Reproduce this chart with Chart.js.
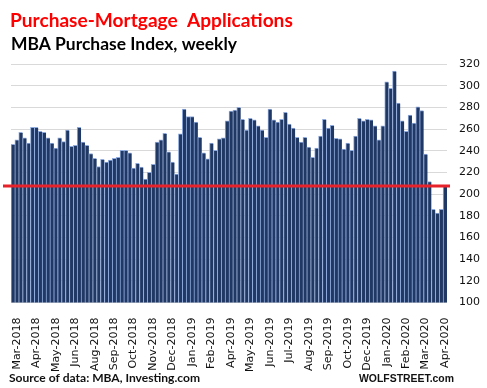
<!DOCTYPE html>
<html>
<head>
<meta charset="utf-8">
<title>Purchase-Mortgage Applications</title>
<script src="https://cdn.jsdelivr.net/npm/chart.js@4.4.1/dist/chart.umd.min.js"></script>
<style>
  html, body { margin: 0; padding: 0; background: #fff; }
  #chart { display: block; }
</style>
</head>
<body>
<canvas id="chart" width="487" height="388"></canvas>
<script>
var titleText = 'Purchase-Mortgage  Applications';
var subtitleText = 'MBA Purchase Index, weekly';
var sourceText = 'Source of data: MBA, Investing.com';
var brandText = 'WOLFSTREET.com';

// month labels shown under every 5th week, starting at week 1
var tickLabels = ['Mar-2018', 'Apr-2018', 'May-2018', 'Jun-2018', 'Aug-2018', 'Sep-2018', 'Oct-2018', 'Nov-2018', 'Dec-2018', 'Jan-2019', 'Feb-2019', 'Apr-2019', 'May-2019', 'Jun-2019', 'Jul-2019', 'Aug-2019', 'Sep-2019', 'Oct-2019', 'Dec-2019', 'Jan-2020', 'Feb-2020', 'Mar-2020', 'Apr-2020'];
var firstTick = 1;
var tickEvery = 5;

// weekly purchase index
var purchaseIndex = [
  246, 250, 257, 252, 247, 261.5, 261.5, 258, 257, 252,
  247, 242.5, 252, 248.5, 259, 244, 245, 261.5, 248, 245,
  237.5, 233, 225.5, 232, 229.5, 231.5, 233, 234, 240.5, 240.5,
  238, 224, 228.5, 225, 214, 220, 227.5, 248, 250, 256,
  239, 229.5, 218.5, 255.5, 278.5, 271.5, 271.5, 266.5, 252.5, 238,
  232.5, 247, 240.5, 251, 252, 267.5, 276.5, 277.5, 280, 269,
  259, 270, 268.5, 263, 259, 252.5, 278.5, 268.5, 266.5, 269,
  275.5, 264.5, 261, 252.5, 248, 252.5, 243.5, 234, 242.5, 253.5,
  269, 261, 263.5, 251.5, 251, 241.5, 247, 240.5, 253.5, 270,
  267.5, 269, 268.5, 263, 250, 263, 303.5, 297.5, 313.5, 284,
  267.5, 258, 273, 265.5, 280.5, 277, 237, 211.5, 186, 182.5,
  186, 207.4
];
var redLineValue = 207.4;

var yMin = 100;
var yMax = 320;
var yStep = 20;

var weeks = [];
for (var i = 0; i < purchaseIndex.length; i++) {
  var k = i - firstTick;
  if (k >= 0 && k % tickEvery === 0 && tickLabels[k / tickEvery]) {
    weeks.push(tickLabels[k / tickEvery]);
  } else {
    weeks.push('');
  }
}

// shrink or grow a font so the text takes the given width
function fitFont(ctx, text, weight, family, width) {
  ctx.font = weight + ' 20px ' + family;
  var size = 20 * width / ctx.measureText(text).width;
  ctx.font = weight + ' ' + size.toFixed(2) + 'px ' + family;
}

var overlay = {
  id: 'overlay',
  afterDatasetsDraw: function(chart) {
    var ctx = chart.ctx;
    var area = chart.chartArea;
    var y = chart.scales.y.getPixelForValue(redLineValue);
    ctx.save();
    ctx.strokeStyle = '#e8222b';
    ctx.lineWidth = 3;
    ctx.beginPath();
    ctx.moveTo(area.left - 8, y);
    ctx.lineTo(area.right + 3, y);
    ctx.stroke();
    ctx.restore();
  },
  afterDraw: function(chart) {
    var ctx = chart.ctx;
    ctx.save();
    ctx.textBaseline = 'alphabetic';
    ctx.textAlign = 'left';

    ctx.fillStyle = '#ff0000';
    fitFont(ctx, titleText, 'bold', 'Lato', 283);
    ctx.fillText(titleText, 10, 27);

    ctx.fillStyle = '#000000';
    fitFont(ctx, subtitleText, 'bold', 'Lato', 226);
    ctx.fillText(subtitleText, 11, 49.5);

    ctx.fillStyle = '#111111';
    fitFont(ctx, sourceText, 'bold', 'Lato', 191);
    ctx.fillText(sourceText, 9, 382);

    fitFont(ctx, brandText, 'bold', '"Liberation Sans"', 95);
    ctx.fillText(brandText, 359, 382);
    ctx.restore();
  }
};

var ctx = document.getElementById('chart').getContext('2d');
var mortgageChart = new Chart(ctx, {
  type: 'bar',
  data: {
    labels: weeks,
    datasets: [
      {
        data: purchaseIndex,
        backgroundColor: '#203864',
        borderColor: '#8faadc',
        borderWidth: { top: 1, left: 1, right: 0, bottom: 0 },
        borderSkipped: false,
        barPercentage: 1,
        categoryPercentage: 1
      }
    ]
  },
  options: {
    responsive: false,
    animation: false,
    devicePixelRatio: 1,
    layout: {
      padding: { top: 64, left: 11, right: 0, bottom: 0 }
    },
    plugins: {
      legend: { display: false },
      tooltip: { enabled: false }
    },
    scales: {
      x: {
        grid: { display: false },
        border: { display: false },
        ticks: {
          autoSkip: false,
          maxRotation: 90,
          minRotation: 90,
          padding: 7,
          color: '#111',
          font: { family: '"DejaVu Sans"', size: 11 }
        },
        afterFit: function(scale) { scale.height = 85.4; }
      },
      y: {
        position: 'right',
        min: yMin,
        max: yMax,
        grid: { color: '#d9d9d9', lineWidth: 1, drawTicks: false },
        border: { display: false },
        ticks: {
          stepSize: yStep,
          padding: 12,
          color: '#111',
          font: { family: '"DejaVu Sans"', size: 11 }
        },
        afterFit: function(scale) { scale.width = 40; }
      }
    }
  },
  plugins: [overlay]
});
</script>
</body>
</html>
